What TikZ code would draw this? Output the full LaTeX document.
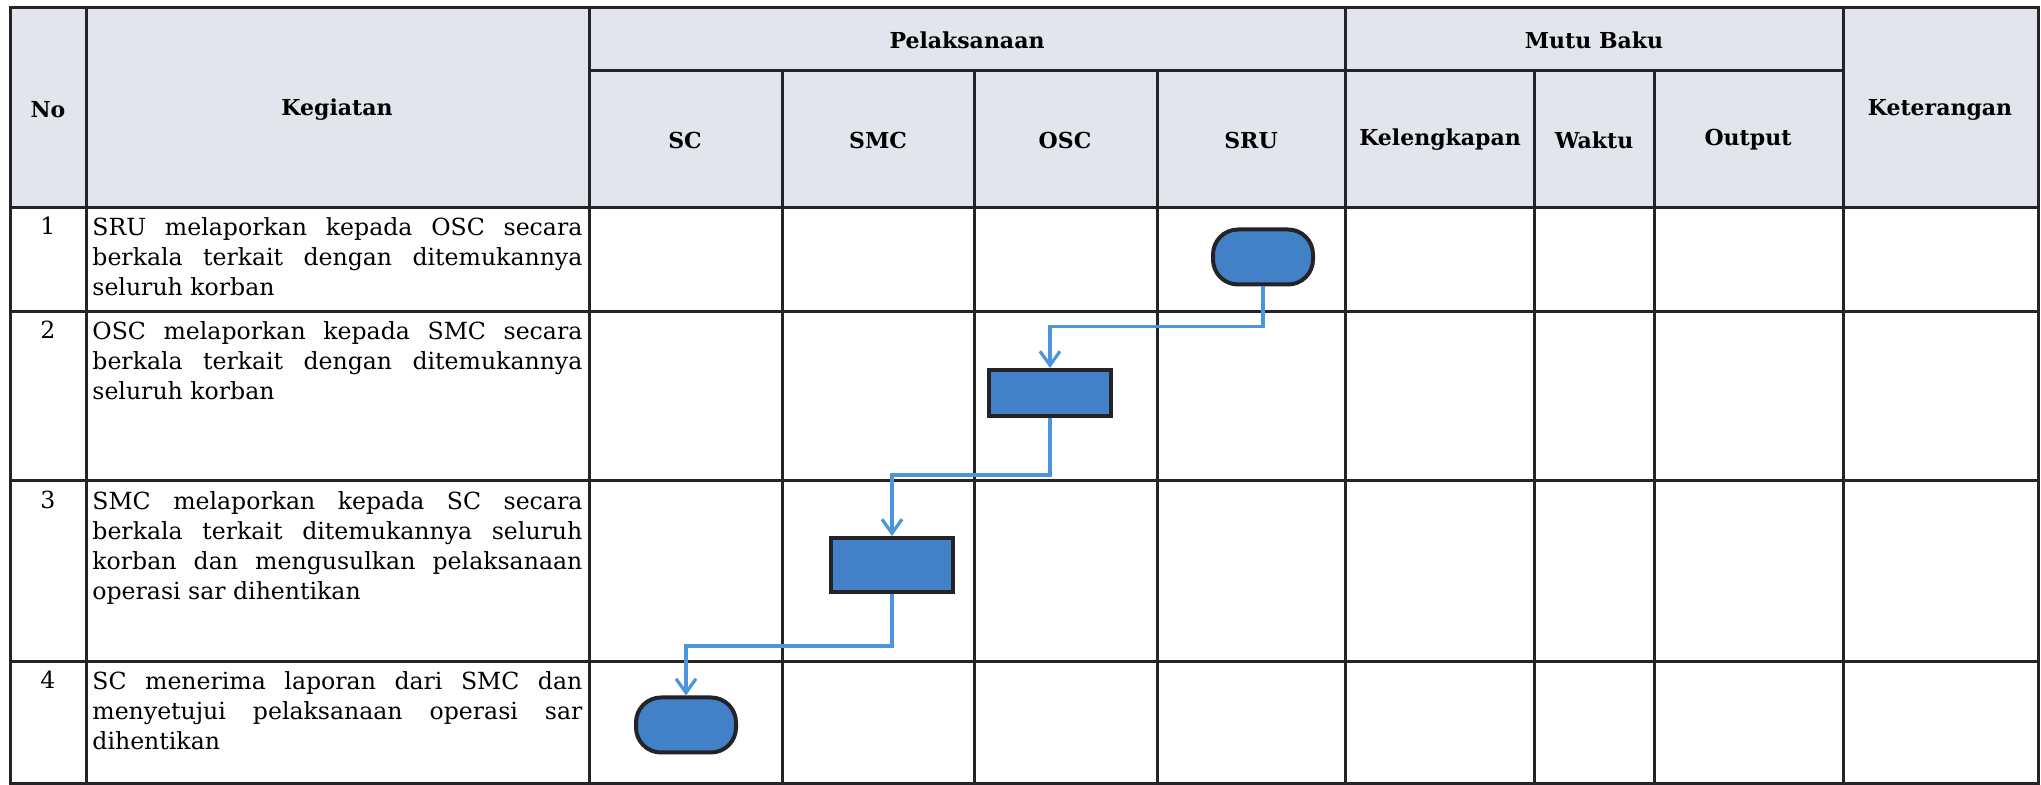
\documentclass[tikz,border=0pt]{standalone}
\usepackage{fontspec}
\setmainfont{DejaVu Serif}
\usetikzlibrary{arrows.meta,positioning}
\definecolor{headgray}{RGB}{226,229,235}
\definecolor{shapeblue}{RGB}{66,128,200}
\definecolor{flowblue}{RGB}{76,148,220}
\definecolor{gridline}{RGB}{35,35,40}

\begin{document}
\begin{tikzpicture}[x=0.5pt,y=-0.5pt,
    grid/.style={line width=1.5pt, gridline},
    head/.style={font=\fontsize{11}{13}\selectfont\bfseries, inner sep=0pt},
    act/.style={font=\fontsize{11.8}{15}\selectfont, text width=245pt, align=justify, anchor=north west, inner sep=0pt},
    num/.style={font=\fontsize{11.8}{15}\selectfont, anchor=base, inner sep=0pt},
    terminal/.style={draw=gridline, line width=2pt, fill=shapeblue, rounded corners=12.5pt, minimum width=50pt, minimum height=27.5pt, inner sep=0pt},
    process/.style={draw=gridline, line width=2pt, fill=shapeblue, minimum width=61pt, inner sep=0pt},
    flow/.style={flowblue, line width=1.6pt, -{Straight Barb[length=7pt,width=10pt]}}]
    \useasboundingbox (0,0) rectangle (2041,785);
    \fill[white] (0,0) rectangle (2041,785);
    % Header band
    \fill[headgray] (10,8) rectangle (2038,208);
    % Table lines
    \draw[grid] (10,8) rectangle (2038,783);
    \draw[grid] (589,71) -- (1843,71);
    \foreach \y in {208,312,481,662}
        \draw[grid] (10,\y) -- (2038,\y);
    \foreach \x in {86,589,1345,1843}
        \draw[grid] (\x,8) -- (\x,783);
    \foreach \x in {782,974,1157,1534,1654}
        \draw[grid] (\x,71) -- (\x,783);
    % Header labels
    \node[head] (hno) at (48,110) {No};
    \node[head] (hkeg) at (337,110) {Kegiatan};
    \node[head] (hpel) at (967,40) {Pelaksanaan};
    \node[head] (hmutu) at (1594,40) {Mutu Baku};
    \node[head] (hsc) at (685,140) {SC};
    \node[head] (hsmc) at (878,140) {SMC};
    \node[head] (hosc) at (1065,140) {OSC};
    \node[head] (hsru) at (1251,140) {SRU};
    \node[head] (hlengkap) at (1440,140) {Kelengkapan};
    \node[head] (hwaktu) at (1594,140) {Waktu};
    \node[head] (hout) at (1748,140) {Output};
    \node[head] (hket) at (1940,110) {Keterangan};
    % Rows: number and activity
    \node[num] (n1) at (48,235) {1};
    \node[act] (k1) at (92,217) {SRU melaporkan kepada OSC secara\linebreak berkala terkait dengan ditemukannya\linebreak seluruh korban};
    \node[num] (n2) at (48,339) {2};
    \node[act] (k2) at (92,321) {OSC melaporkan kepada SMC secara\linebreak berkala terkait dengan ditemukannya\linebreak seluruh korban};
    \node[num] (n3) at (48,509) {3};
    \node[act] (k3) at (92,491) {SMC melaporkan kepada SC secara\linebreak berkala terkait ditemukannya seluruh\linebreak korban dan mengusulkan pelaksanaan\linebreak operasi sar dihentikan};
    \node[num] (n4) at (48,689) {4};
    \node[act] (k4) at (92,671) {SC menerima laporan dari SMC dan\linebreak menyetujui pelaksanaan operasi sar\linebreak dihentikan};
    % Flow shapes
    \node[terminal] (sru) at (1263,257) {};
    \node[process, minimum height=23pt] (osc) at (1050,393) {};
    \node[process, minimum height=27pt] (smc) at (892,565) {};
    \node[terminal] (sc) at (686,725) {};
    % Connectors
    \draw[flow] (sru.south) -- ++(0,40) -| (osc.north);
    \draw[flow] (osc.south) -- ++(0,57) -| (smc.north);
    \draw[flow] (smc.south) -- ++(0,52) -| (sc.north);
\end{tikzpicture}
\end{document}
